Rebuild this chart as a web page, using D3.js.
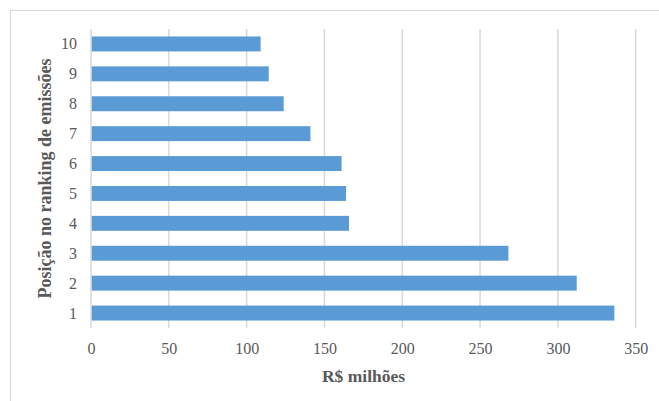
<!DOCTYPE html>
<html>
<head>
<meta charset="utf-8">
<script src="https://cdn.jsdelivr.net/npm/d3@7"></script>
<style>
  html, body { margin: 0; padding: 0; background: #fff; }
  svg { display: block; }
  svg text { font-family: "Liberation Serif", "Times New Roman", serif !important; fill: #595959; }
</style>
</head>
<body>
<svg id="chart" width="659" height="401"></svg>
<script>
// Ranking positions (1 = largest emitter) and their values in R$ millions
const positions = ["1", "2", "3", "4", "5", "6", "7", "8", "9", "10"];
const values = [336.3, 312.1, 268.2, 165.8, 163.9, 161.0, 141.0, 123.8, 114.2, 109.0];
const xTicks = [0, 50, 100, 150, 200, 250, 300, 350];
const xTitle = "R$ milhões";
const yTitle = "Posição no ranking de emissões";

const serif = '"Liberation Serif", "Times New Roman", serif';
const svg = d3.select("#chart");

// Outer chart frame
svg.append("rect")
  .attr("x", 10.5).attr("y", 10.5)
  .attr("width", 660).attr("height", 400)
  .attr("fill", "none").attr("stroke", "#d9d9d9").attr("stroke-width", 1.2);

const plot = { left: 91, right: 635.7, top: 29, bottom: 328 };

const x = d3.scaleLinear().domain([0, 350]).range([plot.left, plot.right]);
const y = d3.scaleBand()
  .domain(positions.slice().reverse())
  .range([plot.top, plot.bottom])
  .paddingInner(0.5)
  .paddingOuter(0.25);

// Vertical gridlines
svg.append("g")
  .selectAll("line")
  .data(xTicks)
  .join("line")
  .attr("x1", d => x(d)).attr("x2", d => x(d))
  .attr("y1", plot.top).attr("y2", plot.bottom)
  .attr("stroke", "#d9d9d9").attr("stroke-width", 1.5);

// Bars
svg.append("g")
  .selectAll("rect")
  .data(positions.map((p, i) => ({ p, v: values[i] })))
  .join("rect")
  .attr("x", x(0) + 0.75)
  .attr("y", d => y(d.p))
  .attr("width", d => x(d.v) - x(0) - 0.75)
  .attr("height", y.bandwidth())
  .attr("fill", "#5b9bd5");

// X axis tick labels
const xAxis = d3.axisBottom(x).tickValues(xTicks).tickSize(0).tickPadding(0);
const gx = svg.append("g").attr("transform", `translate(0, ${plot.bottom + 26})`).call(xAxis);
gx.attr("font-family", null).style("font-family", serif).attr("font-size", 16);
gx.select(".domain").remove();
gx.selectAll("text")
  .attr("dy", 0)
  .style("font-family", serif)
  .attr("font-size", 16)
  .attr("fill", "#595959");

// Y axis tick labels
const yAxis = d3.axisLeft(y).tickSize(0).tickPadding(0);
const gy = svg.append("g").attr("transform", `translate(${plot.left - 14}, 0)`).call(yAxis);
gy.attr("font-family", null).style("font-family", serif).attr("font-size", 16);
gy.select(".domain").remove();
gy.selectAll("text")
  .attr("dy", "0.34em")
  .style("font-family", serif)
  .attr("font-size", 16)
  .attr("fill", "#595959");

// Axis titles
svg.append("text")
  .attr("x", 363.5).attr("y", 382)
  .attr("text-anchor", "middle")
  .attr("font-size", 17.5)
  .attr("font-weight", "bold")
  .text(xTitle);

svg.append("text")
  .attr("transform", "translate(51, 178.5) rotate(-90)")
  .attr("text-anchor", "middle")
  .attr("font-size", 18)
  .attr("font-weight", "bold")
  .text(yTitle);
</script>
</body>
</html>
